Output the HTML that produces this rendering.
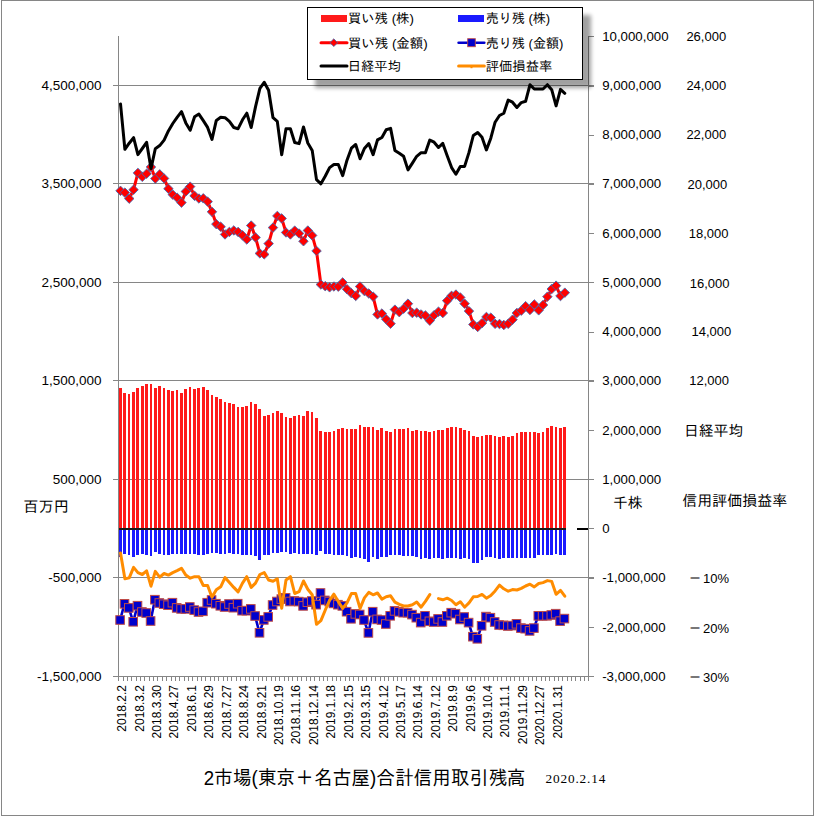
<!DOCTYPE html>
<html lang="ja"><head><meta charset="utf-8"><title>2市場(東京＋名古屋)合計信用取引残高</title>
<style>
html,body{margin:0;padding:0;background:#fff;}
body{width:814px;height:816px;overflow:hidden;position:relative;font-family:"Liberation Sans","IPAGothic","Noto Sans CJK JP",sans-serif;}
svg{position:absolute;left:0;top:0;display:block;}
.num{font-family:"Liberation Sans",sans-serif;font-size:13px;fill:#000;}
.xl{font-family:"Liberation Sans",sans-serif;font-size:12px;fill:#000;}
.jp{font-family:"Liberation Sans","IPAGothic","Noto Sans CJK JP",sans-serif;fill:#000;}
.ser{font-family:"Liberation Serif","Noto Serif CJK SC",serif;font-size:13.3px;fill:#000;}
</style></head><body>
<svg width="814" height="816" viewBox="0 0 814 816">
<defs><filter id="sh" x="-10%" y="-20%" width="125%" height="150%"><feGaussianBlur stdDeviation="2.2"/></filter></defs>
<rect x="0" y="0" width="814" height="816" fill="#fff"/>
<g shape-rendering="crispEdges" fill="#868686">
<rect x="1" y="0" width="813" height="1"/><rect x="1" y="815" width="813" height="1"/><rect x="1" y="0" width="1" height="816"/><rect x="813" y="0" width="1" height="816"/>
<rect x="113" y="85" width="481" height="1"/>
<rect x="113" y="183" width="481" height="1"/>
<rect x="113" y="282" width="481" height="1"/>
<rect x="113" y="380" width="481" height="1"/>
<rect x="113" y="479" width="481" height="1"/>
<rect x="113" y="577" width="481" height="1"/>
<rect x="588" y="36" width="6" height="1"/>
<rect x="588" y="86" width="6" height="1"/>
<rect x="588" y="135" width="6" height="1"/>
<rect x="588" y="184" width="6" height="1"/>
<rect x="588" y="233" width="6" height="1"/>
<rect x="588" y="282" width="6" height="1"/>
<rect x="588" y="332" width="6" height="1"/>
<rect x="588" y="381" width="6" height="1"/>
<rect x="588" y="430" width="6" height="1"/>
<rect x="588" y="479" width="6" height="1"/>
<rect x="588" y="528" width="6" height="1"/>
<rect x="588" y="578" width="6" height="1"/>
<rect x="588" y="627" width="6" height="1"/>
<rect x="588" y="676" width="6" height="1"/>
</g>
<g shape-rendering="crispEdges" fill="#FF1A1A">
<rect x="119" y="388" width="3" height="140"/>
<rect x="123" y="393" width="3" height="135"/>
<rect x="128" y="394" width="2" height="134"/>
<rect x="132" y="392" width="3" height="136"/>
<rect x="136" y="388" width="3" height="140"/>
<rect x="141" y="386" width="3" height="142"/>
<rect x="145" y="384" width="3" height="144"/>
<rect x="150" y="384" width="2" height="144"/>
<rect x="154" y="388" width="3" height="140"/>
<rect x="158" y="386" width="3" height="142"/>
<rect x="163" y="388" width="2" height="140"/>
<rect x="167" y="390" width="3" height="138"/>
<rect x="171" y="391" width="3" height="137"/>
<rect x="176" y="390" width="2" height="138"/>
<rect x="180" y="393" width="3" height="135"/>
<rect x="184" y="389" width="3" height="139"/>
<rect x="189" y="387" width="2" height="141"/>
<rect x="193" y="389" width="3" height="139"/>
<rect x="197" y="388" width="3" height="140"/>
<rect x="202" y="387" width="3" height="141"/>
<rect x="206" y="390" width="3" height="138"/>
<rect x="211" y="395" width="2" height="133"/>
<rect x="215" y="397" width="3" height="131"/>
<rect x="219" y="399" width="3" height="129"/>
<rect x="224" y="402" width="2" height="126"/>
<rect x="228" y="403" width="3" height="125"/>
<rect x="232" y="404" width="3" height="124"/>
<rect x="237" y="407" width="2" height="121"/>
<rect x="241" y="407" width="3" height="121"/>
<rect x="245" y="406" width="3" height="122"/>
<rect x="250" y="402" width="2" height="126"/>
<rect x="254" y="404" width="3" height="124"/>
<rect x="258" y="409" width="3" height="119"/>
<rect x="263" y="416" width="3" height="112"/>
<rect x="267" y="415" width="3" height="113"/>
<rect x="272" y="413" width="2" height="115"/>
<rect x="276" y="411" width="3" height="117"/>
<rect x="280" y="413" width="3" height="115"/>
<rect x="285" y="417" width="2" height="111"/>
<rect x="289" y="418" width="3" height="110"/>
<rect x="293" y="416" width="3" height="112"/>
<rect x="298" y="415" width="2" height="113"/>
<rect x="302" y="416" width="3" height="112"/>
<rect x="306" y="411" width="3" height="117"/>
<rect x="311" y="412" width="2" height="116"/>
<rect x="315" y="418" width="3" height="110"/>
<rect x="319" y="431" width="3" height="97"/>
<rect x="324" y="432" width="3" height="96"/>
<rect x="328" y="432" width="3" height="96"/>
<rect x="333" y="431" width="2" height="97"/>
<rect x="337" y="429" width="3" height="99"/>
<rect x="341" y="428" width="3" height="100"/>
<rect x="346" y="429" width="2" height="99"/>
<rect x="350" y="429" width="3" height="99"/>
<rect x="354" y="429" width="3" height="99"/>
<rect x="359" y="425" width="2" height="103"/>
<rect x="363" y="427" width="3" height="101"/>
<rect x="367" y="427" width="3" height="101"/>
<rect x="372" y="427" width="2" height="101"/>
<rect x="376" y="430" width="3" height="98"/>
<rect x="380" y="428" width="3" height="100"/>
<rect x="385" y="431" width="3" height="97"/>
<rect x="389" y="432" width="3" height="96"/>
<rect x="394" y="429" width="2" height="99"/>
<rect x="398" y="429" width="3" height="99"/>
<rect x="402" y="429" width="3" height="99"/>
<rect x="407" y="428" width="2" height="100"/>
<rect x="411" y="431" width="3" height="97"/>
<rect x="415" y="430" width="3" height="98"/>
<rect x="420" y="431" width="2" height="97"/>
<rect x="424" y="431" width="3" height="97"/>
<rect x="428" y="432" width="3" height="96"/>
<rect x="433" y="431" width="2" height="97"/>
<rect x="437" y="430" width="3" height="98"/>
<rect x="441" y="430" width="3" height="98"/>
<rect x="446" y="428" width="3" height="100"/>
<rect x="450" y="427" width="3" height="101"/>
<rect x="455" y="427" width="2" height="101"/>
<rect x="459" y="428" width="3" height="100"/>
<rect x="463" y="430" width="3" height="98"/>
<rect x="468" y="431" width="2" height="97"/>
<rect x="472" y="436" width="3" height="92"/>
<rect x="476" y="437" width="3" height="91"/>
<rect x="481" y="436" width="2" height="92"/>
<rect x="485" y="435" width="3" height="93"/>
<rect x="489" y="435" width="3" height="93"/>
<rect x="494" y="436" width="2" height="92"/>
<rect x="498" y="437" width="3" height="91"/>
<rect x="502" y="436" width="3" height="92"/>
<rect x="507" y="437" width="3" height="91"/>
<rect x="511" y="436" width="3" height="92"/>
<rect x="516" y="433" width="2" height="95"/>
<rect x="520" y="432" width="3" height="96"/>
<rect x="524" y="432" width="3" height="96"/>
<rect x="529" y="432" width="2" height="96"/>
<rect x="533" y="432" width="3" height="96"/>
<rect x="537" y="433" width="3" height="95"/>
<rect x="542" y="432" width="2" height="96"/>
<rect x="546" y="428" width="3" height="100"/>
<rect x="550" y="426" width="3" height="102"/>
<rect x="555" y="427" width="2" height="101"/>
<rect x="559" y="428" width="3" height="100"/>
<rect x="563" y="427" width="3" height="101"/>
</g>
<g shape-rendering="crispEdges" fill="#1A1AFF">
<rect x="119" y="530" width="3" height="27"/>
<rect x="123" y="530" width="3" height="24"/>
<rect x="128" y="530" width="2" height="25"/>
<rect x="132" y="530" width="3" height="27"/>
<rect x="136" y="530" width="3" height="25"/>
<rect x="141" y="530" width="3" height="24"/>
<rect x="145" y="530" width="3" height="25"/>
<rect x="150" y="530" width="2" height="26"/>
<rect x="154" y="530" width="3" height="22"/>
<rect x="158" y="530" width="3" height="24"/>
<rect x="163" y="530" width="2" height="25"/>
<rect x="167" y="530" width="3" height="25"/>
<rect x="171" y="530" width="3" height="24"/>
<rect x="176" y="530" width="2" height="24"/>
<rect x="180" y="530" width="3" height="24"/>
<rect x="184" y="530" width="3" height="24"/>
<rect x="189" y="530" width="2" height="24"/>
<rect x="193" y="530" width="3" height="24"/>
<rect x="197" y="530" width="3" height="25"/>
<rect x="202" y="530" width="3" height="25"/>
<rect x="206" y="530" width="3" height="24"/>
<rect x="211" y="530" width="2" height="23"/>
<rect x="215" y="530" width="3" height="23"/>
<rect x="219" y="530" width="3" height="24"/>
<rect x="224" y="530" width="2" height="24"/>
<rect x="228" y="530" width="3" height="23"/>
<rect x="232" y="530" width="3" height="24"/>
<rect x="237" y="530" width="2" height="24"/>
<rect x="241" y="530" width="3" height="25"/>
<rect x="245" y="530" width="3" height="25"/>
<rect x="250" y="530" width="2" height="25"/>
<rect x="254" y="530" width="3" height="26"/>
<rect x="258" y="530" width="3" height="30"/>
<rect x="263" y="530" width="3" height="25"/>
<rect x="267" y="530" width="3" height="25"/>
<rect x="272" y="530" width="2" height="23"/>
<rect x="276" y="530" width="3" height="23"/>
<rect x="280" y="530" width="3" height="22"/>
<rect x="285" y="530" width="2" height="22"/>
<rect x="289" y="530" width="3" height="24"/>
<rect x="293" y="530" width="3" height="23"/>
<rect x="298" y="530" width="2" height="24"/>
<rect x="302" y="530" width="3" height="24"/>
<rect x="306" y="530" width="3" height="24"/>
<rect x="311" y="530" width="2" height="24"/>
<rect x="315" y="530" width="3" height="25"/>
<rect x="319" y="530" width="3" height="21"/>
<rect x="324" y="530" width="3" height="24"/>
<rect x="328" y="530" width="3" height="24"/>
<rect x="333" y="530" width="2" height="25"/>
<rect x="337" y="530" width="3" height="25"/>
<rect x="341" y="530" width="3" height="25"/>
<rect x="346" y="530" width="2" height="26"/>
<rect x="350" y="530" width="3" height="28"/>
<rect x="354" y="530" width="3" height="27"/>
<rect x="359" y="530" width="2" height="28"/>
<rect x="363" y="530" width="3" height="29"/>
<rect x="367" y="530" width="3" height="32"/>
<rect x="372" y="530" width="2" height="27"/>
<rect x="376" y="530" width="3" height="29"/>
<rect x="380" y="530" width="3" height="27"/>
<rect x="385" y="530" width="3" height="27"/>
<rect x="389" y="530" width="3" height="25"/>
<rect x="394" y="530" width="2" height="25"/>
<rect x="398" y="530" width="3" height="25"/>
<rect x="402" y="530" width="3" height="26"/>
<rect x="407" y="530" width="2" height="26"/>
<rect x="411" y="530" width="3" height="26"/>
<rect x="415" y="530" width="3" height="27"/>
<rect x="420" y="530" width="2" height="29"/>
<rect x="424" y="530" width="3" height="28"/>
<rect x="428" y="530" width="3" height="29"/>
<rect x="433" y="530" width="2" height="28"/>
<rect x="437" y="530" width="3" height="28"/>
<rect x="441" y="530" width="3" height="29"/>
<rect x="446" y="530" width="3" height="28"/>
<rect x="450" y="530" width="3" height="28"/>
<rect x="455" y="530" width="2" height="28"/>
<rect x="459" y="530" width="3" height="29"/>
<rect x="463" y="530" width="3" height="28"/>
<rect x="468" y="530" width="2" height="29"/>
<rect x="472" y="530" width="3" height="33"/>
<rect x="476" y="530" width="3" height="33"/>
<rect x="481" y="530" width="2" height="30"/>
<rect x="485" y="530" width="3" height="27"/>
<rect x="489" y="530" width="3" height="27"/>
<rect x="494" y="530" width="2" height="28"/>
<rect x="498" y="530" width="3" height="29"/>
<rect x="502" y="530" width="3" height="28"/>
<rect x="507" y="530" width="3" height="28"/>
<rect x="511" y="530" width="3" height="28"/>
<rect x="516" y="530" width="2" height="28"/>
<rect x="520" y="530" width="3" height="28"/>
<rect x="524" y="530" width="3" height="28"/>
<rect x="529" y="530" width="2" height="28"/>
<rect x="533" y="530" width="3" height="28"/>
<rect x="537" y="530" width="3" height="25"/>
<rect x="542" y="530" width="2" height="25"/>
<rect x="546" y="530" width="3" height="25"/>
<rect x="550" y="530" width="3" height="25"/>
<rect x="555" y="530" width="2" height="24"/>
<rect x="559" y="530" width="3" height="25"/>
<rect x="563" y="530" width="3" height="25"/>
</g>
<g shape-rendering="crispEdges" fill="#868686">
<rect x="118" y="36" width="1" height="641"/>
<rect x="588" y="36" width="1" height="641"/>
<rect x="113" y="676" width="476" height="1"/>
<rect x="118" y="676" width="1" height="5"/>
<rect x="123" y="676" width="1" height="5"/>
<rect x="127" y="676" width="1" height="5"/>
<rect x="131" y="676" width="1" height="5"/>
<rect x="136" y="676" width="1" height="5"/>
<rect x="140" y="676" width="1" height="5"/>
<rect x="144" y="676" width="1" height="5"/>
<rect x="149" y="676" width="1" height="5"/>
<rect x="153" y="676" width="1" height="5"/>
<rect x="157" y="676" width="1" height="5"/>
<rect x="162" y="676" width="1" height="5"/>
<rect x="166" y="676" width="1" height="5"/>
<rect x="171" y="676" width="1" height="5"/>
<rect x="175" y="676" width="1" height="5"/>
<rect x="179" y="676" width="1" height="5"/>
<rect x="184" y="676" width="1" height="5"/>
<rect x="188" y="676" width="1" height="5"/>
<rect x="192" y="676" width="1" height="5"/>
<rect x="197" y="676" width="1" height="5"/>
<rect x="201" y="676" width="1" height="5"/>
<rect x="205" y="676" width="1" height="5"/>
<rect x="210" y="676" width="1" height="5"/>
<rect x="214" y="676" width="1" height="5"/>
<rect x="218" y="676" width="1" height="5"/>
<rect x="223" y="676" width="1" height="5"/>
<rect x="227" y="676" width="1" height="5"/>
<rect x="231" y="676" width="1" height="5"/>
<rect x="236" y="676" width="1" height="5"/>
<rect x="240" y="676" width="1" height="5"/>
<rect x="245" y="676" width="1" height="5"/>
<rect x="249" y="676" width="1" height="5"/>
<rect x="253" y="676" width="1" height="5"/>
<rect x="258" y="676" width="1" height="5"/>
<rect x="262" y="676" width="1" height="5"/>
<rect x="266" y="676" width="1" height="5"/>
<rect x="271" y="676" width="1" height="5"/>
<rect x="275" y="676" width="1" height="5"/>
<rect x="279" y="676" width="1" height="5"/>
<rect x="284" y="676" width="1" height="5"/>
<rect x="288" y="676" width="1" height="5"/>
<rect x="292" y="676" width="1" height="5"/>
<rect x="297" y="676" width="1" height="5"/>
<rect x="301" y="676" width="1" height="5"/>
<rect x="306" y="676" width="1" height="5"/>
<rect x="310" y="676" width="1" height="5"/>
<rect x="314" y="676" width="1" height="5"/>
<rect x="319" y="676" width="1" height="5"/>
<rect x="323" y="676" width="1" height="5"/>
<rect x="327" y="676" width="1" height="5"/>
<rect x="332" y="676" width="1" height="5"/>
<rect x="336" y="676" width="1" height="5"/>
<rect x="340" y="676" width="1" height="5"/>
<rect x="345" y="676" width="1" height="5"/>
<rect x="349" y="676" width="1" height="5"/>
<rect x="353" y="676" width="1" height="5"/>
<rect x="358" y="676" width="1" height="5"/>
<rect x="362" y="676" width="1" height="5"/>
<rect x="366" y="676" width="1" height="5"/>
<rect x="371" y="676" width="1" height="5"/>
<rect x="375" y="676" width="1" height="5"/>
<rect x="380" y="676" width="1" height="5"/>
<rect x="384" y="676" width="1" height="5"/>
<rect x="388" y="676" width="1" height="5"/>
<rect x="393" y="676" width="1" height="5"/>
<rect x="397" y="676" width="1" height="5"/>
<rect x="401" y="676" width="1" height="5"/>
<rect x="406" y="676" width="1" height="5"/>
<rect x="410" y="676" width="1" height="5"/>
<rect x="414" y="676" width="1" height="5"/>
<rect x="419" y="676" width="1" height="5"/>
<rect x="423" y="676" width="1" height="5"/>
<rect x="427" y="676" width="1" height="5"/>
<rect x="432" y="676" width="1" height="5"/>
<rect x="436" y="676" width="1" height="5"/>
<rect x="440" y="676" width="1" height="5"/>
<rect x="445" y="676" width="1" height="5"/>
<rect x="449" y="676" width="1" height="5"/>
<rect x="454" y="676" width="1" height="5"/>
<rect x="458" y="676" width="1" height="5"/>
<rect x="462" y="676" width="1" height="5"/>
<rect x="467" y="676" width="1" height="5"/>
<rect x="471" y="676" width="1" height="5"/>
<rect x="475" y="676" width="1" height="5"/>
<rect x="480" y="676" width="1" height="5"/>
<rect x="484" y="676" width="1" height="5"/>
<rect x="488" y="676" width="1" height="5"/>
<rect x="493" y="676" width="1" height="5"/>
<rect x="497" y="676" width="1" height="5"/>
<rect x="501" y="676" width="1" height="5"/>
<rect x="506" y="676" width="1" height="5"/>
<rect x="510" y="676" width="1" height="5"/>
<rect x="514" y="676" width="1" height="5"/>
<rect x="519" y="676" width="1" height="5"/>
<rect x="523" y="676" width="1" height="5"/>
<rect x="528" y="676" width="1" height="5"/>
<rect x="532" y="676" width="1" height="5"/>
<rect x="536" y="676" width="1" height="5"/>
<rect x="541" y="676" width="1" height="5"/>
<rect x="545" y="676" width="1" height="5"/>
<rect x="549" y="676" width="1" height="5"/>
<rect x="554" y="676" width="1" height="5"/>
<rect x="558" y="676" width="1" height="5"/>
<rect x="562" y="676" width="1" height="5"/>
<rect x="567" y="676" width="1" height="5"/>
<rect x="571" y="676" width="1" height="5"/>
<rect x="575" y="676" width="1" height="5"/>
<rect x="580" y="676" width="1" height="5"/>
<rect x="584" y="676" width="1" height="5"/>
<rect x="588" y="676" width="1" height="5"/>
</g>
<g shape-rendering="crispEdges" fill="#1a1a1a"><rect x="119" y="528" width="447" height="2"/><rect x="577" y="528" width="11" height="2" fill="#000"/></g>
<polyline points="120.5,190.8 124.9,192.6 129.2,198.6 133.6,189.7 137.9,172.9 142.3,176.8 146.6,173.7 151.0,167.0 155.3,178.6 159.7,174.3 164.1,178.4 168.4,188.7 172.8,194.6 177.1,197.7 181.5,202.6 185.8,191.5 190.2,186.6 194.6,195.8 198.9,198.5 203.3,198.3 207.6,201.6 212.0,211.8 216.3,224.1 220.7,226.7 225.0,234.4 229.4,231.9 233.8,230.4 238.1,231.9 242.5,235.3 246.8,239.5 251.2,225.5 255.5,237.4 259.9,253.4 264.2,254.4 268.6,243.6 273.0,227.6 277.3,215.9 281.7,218.4 286.0,232.5 290.4,234.4 294.7,230.6 299.1,233.5 303.5,241.2 307.8,230.5 312.2,235.4 316.5,250.9 320.9,284.5 325.2,286.1 329.6,287.3 333.9,286.5 338.3,286.7 342.7,282.4 347.0,289.2 351.4,293.1 355.7,295.9 360.1,286.5 364.4,291.0 368.8,293.5 373.1,296.6 377.5,314.4 381.9,313.5 386.2,319.3 390.6,323.7 394.9,309.6 399.3,312.1 403.6,308.7 408.0,303.7 412.4,313.0 416.7,312.7 421.1,314.4 425.4,315.4 429.8,320.6 434.1,315.2 438.5,311.7 442.8,313.0 447.2,300.7 451.6,295.8 455.9,294.5 460.3,297.4 464.6,303.7 469.0,311.1 473.3,324.4 477.7,326.9 482.0,323.1 486.4,316.9 490.8,317.6 495.1,323.8 499.5,324.0 503.8,325.0 508.2,323.8 512.5,319.7 516.9,313.0 521.3,310.7 525.6,306.2 530.0,309.9 534.3,304.4 538.7,310.3 543.0,305.0 547.4,296.7 551.7,289.0 556.1,285.7 560.5,296.0 564.8,292.7" fill="none" stroke="#FF0000" stroke-width="3" stroke-linejoin="round" stroke-linecap="round"/>
<g fill="#FF0000" stroke="#3F6CB5" stroke-width="0.85" stroke-linejoin="miter">
<path d="M120.5 186.1L125.2 190.8L120.5 195.6L115.8 190.8Z"/>
<path d="M124.9 187.9L129.6 192.6L124.9 197.4L120.1 192.6Z"/>
<path d="M129.2 193.9L134.0 198.6L129.2 203.4L124.5 198.6Z"/>
<path d="M133.6 185.0L138.3 189.7L133.6 194.5L128.8 189.7Z"/>
<path d="M137.9 168.2L142.7 172.9L137.9 177.7L133.2 172.9Z"/>
<path d="M142.3 172.1L147.0 176.8L142.3 181.6L137.5 176.8Z"/>
<path d="M146.6 169.0L151.4 173.7L146.6 178.5L141.9 173.7Z"/>
<path d="M151.0 162.2L155.7 167.0L151.0 171.8L146.2 167.0Z"/>
<path d="M155.3 173.9L160.1 178.6L155.3 183.4L150.6 178.6Z"/>
<path d="M159.7 169.6L164.5 174.3L159.7 179.1L155.0 174.3Z"/>
<path d="M164.1 173.7L168.8 178.4L164.1 183.2L159.3 178.4Z"/>
<path d="M168.4 184.0L173.2 188.7L168.4 193.5L163.7 188.7Z"/>
<path d="M172.8 189.9L177.5 194.6L172.8 199.4L168.0 194.6Z"/>
<path d="M177.1 193.0L181.9 197.7L177.1 202.5L172.4 197.7Z"/>
<path d="M181.5 197.9L186.2 202.6L181.5 207.4L176.7 202.6Z"/>
<path d="M185.8 186.8L190.6 191.5L185.8 196.2L181.1 191.5Z"/>
<path d="M190.2 181.9L194.9 186.6L190.2 191.4L185.4 186.6Z"/>
<path d="M194.6 191.1L199.3 195.8L194.6 200.6L189.8 195.8Z"/>
<path d="M198.9 193.8L203.7 198.5L198.9 203.2L194.2 198.5Z"/>
<path d="M203.3 193.6L208.0 198.3L203.3 203.1L198.5 198.3Z"/>
<path d="M207.6 196.9L212.4 201.6L207.6 206.4L202.9 201.6Z"/>
<path d="M212.0 207.1L216.7 211.8L212.0 216.6L207.2 211.8Z"/>
<path d="M216.3 219.4L221.1 224.1L216.3 228.9L211.6 224.1Z"/>
<path d="M220.7 222.0L225.4 226.7L220.7 231.5L215.9 226.7Z"/>
<path d="M225.0 229.7L229.8 234.4L225.0 239.2L220.3 234.4Z"/>
<path d="M229.4 227.2L234.1 231.9L229.4 236.7L224.6 231.9Z"/>
<path d="M233.8 225.7L238.5 230.4L233.8 235.2L229.0 230.4Z"/>
<path d="M238.1 227.2L242.9 231.9L238.1 236.7L233.4 231.9Z"/>
<path d="M242.5 230.6L247.2 235.3L242.5 240.1L237.7 235.3Z"/>
<path d="M246.8 234.8L251.6 239.5L246.8 244.2L242.1 239.5Z"/>
<path d="M251.2 220.8L255.9 225.5L251.2 230.2L246.4 225.5Z"/>
<path d="M255.5 232.7L260.3 237.4L255.5 242.2L250.8 237.4Z"/>
<path d="M259.9 248.7L264.6 253.4L259.9 258.1L255.1 253.4Z"/>
<path d="M264.2 249.7L269.0 254.4L264.2 259.1L259.5 254.4Z"/>
<path d="M268.6 238.9L273.4 243.6L268.6 248.4L263.9 243.6Z"/>
<path d="M273.0 222.9L277.7 227.6L273.0 232.4L268.2 227.6Z"/>
<path d="M277.3 211.2L282.1 215.9L277.3 220.7L272.6 215.9Z"/>
<path d="M281.7 213.7L286.4 218.4L281.7 223.2L276.9 218.4Z"/>
<path d="M286.0 227.8L290.8 232.5L286.0 237.2L281.3 232.5Z"/>
<path d="M290.4 229.7L295.1 234.4L290.4 239.2L285.6 234.4Z"/>
<path d="M294.7 225.9L299.5 230.6L294.7 235.4L290.0 230.6Z"/>
<path d="M299.1 228.8L303.8 233.5L299.1 238.2L294.3 233.5Z"/>
<path d="M303.5 236.5L308.2 241.2L303.5 246.0L298.7 241.2Z"/>
<path d="M307.8 225.8L312.6 230.5L307.8 235.2L303.1 230.5Z"/>
<path d="M312.2 230.7L316.9 235.4L312.2 240.2L307.4 235.4Z"/>
<path d="M316.5 246.2L321.3 250.9L316.5 255.7L311.8 250.9Z"/>
<path d="M320.9 279.8L325.6 284.5L320.9 289.2L316.1 284.5Z"/>
<path d="M325.2 281.4L330.0 286.1L325.2 290.9L320.5 286.1Z"/>
<path d="M329.6 282.6L334.3 287.3L329.6 292.1L324.8 287.3Z"/>
<path d="M333.9 281.8L338.7 286.5L333.9 291.2L329.2 286.5Z"/>
<path d="M338.3 281.9L343.0 286.7L338.3 291.4L333.5 286.7Z"/>
<path d="M342.7 277.7L347.4 282.4L342.7 287.2L337.9 282.4Z"/>
<path d="M347.0 284.4L351.8 289.2L347.0 293.9L342.3 289.2Z"/>
<path d="M351.4 288.4L356.1 293.1L351.4 297.9L346.6 293.1Z"/>
<path d="M355.7 291.2L360.5 295.9L355.7 300.7L351.0 295.9Z"/>
<path d="M360.1 281.8L364.8 286.5L360.1 291.2L355.3 286.5Z"/>
<path d="M364.4 286.2L369.2 291.0L364.4 295.8L359.7 291.0Z"/>
<path d="M368.8 288.8L373.5 293.5L368.8 298.2L364.0 293.5Z"/>
<path d="M373.1 291.9L377.9 296.6L373.1 301.4L368.4 296.6Z"/>
<path d="M377.5 309.7L382.3 314.4L377.5 319.2L372.8 314.4Z"/>
<path d="M381.9 308.8L386.6 313.5L381.9 318.2L377.1 313.5Z"/>
<path d="M386.2 314.6L391.0 319.3L386.2 324.1L381.5 319.3Z"/>
<path d="M390.6 318.9L395.3 323.7L390.6 328.4L385.8 323.7Z"/>
<path d="M394.9 304.9L399.7 309.6L394.9 314.4L390.2 309.6Z"/>
<path d="M399.3 307.4L404.0 312.1L399.3 316.9L394.5 312.1Z"/>
<path d="M403.6 303.9L408.4 308.7L403.6 313.4L398.9 308.7Z"/>
<path d="M408.0 298.9L412.7 303.7L408.0 308.4L403.2 303.7Z"/>
<path d="M412.4 308.2L417.1 313.0L412.4 317.8L407.6 313.0Z"/>
<path d="M416.7 307.9L421.5 312.7L416.7 317.4L412.0 312.7Z"/>
<path d="M421.1 309.7L425.8 314.4L421.1 319.2L416.3 314.4Z"/>
<path d="M425.4 310.7L430.2 315.4L425.4 320.2L420.7 315.4Z"/>
<path d="M429.8 315.9L434.5 320.6L429.8 325.4L425.0 320.6Z"/>
<path d="M434.1 310.4L438.9 315.2L434.1 319.9L429.4 315.2Z"/>
<path d="M438.5 306.9L443.2 311.7L438.5 316.4L433.7 311.7Z"/>
<path d="M442.8 308.2L447.6 313.0L442.8 317.8L438.1 313.0Z"/>
<path d="M447.2 295.9L451.9 300.7L447.2 305.4L442.4 300.7Z"/>
<path d="M451.6 291.1L456.3 295.8L451.6 300.6L446.8 295.8Z"/>
<path d="M455.9 289.8L460.7 294.5L455.9 299.2L451.2 294.5Z"/>
<path d="M460.3 292.7L465.0 297.4L460.3 302.2L455.5 297.4Z"/>
<path d="M464.6 298.9L469.4 303.7L464.6 308.4L459.9 303.7Z"/>
<path d="M469.0 306.4L473.7 311.1L469.0 315.9L464.2 311.1Z"/>
<path d="M473.3 319.7L478.1 324.4L473.3 329.2L468.6 324.4Z"/>
<path d="M477.7 322.2L482.4 326.9L477.7 331.7L472.9 326.9Z"/>
<path d="M482.0 318.4L486.8 323.1L482.0 327.9L477.3 323.1Z"/>
<path d="M486.4 312.2L491.2 316.9L486.4 321.7L481.7 316.9Z"/>
<path d="M490.8 312.9L495.5 317.6L490.8 322.4L486.0 317.6Z"/>
<path d="M495.1 319.1L499.9 323.8L495.1 328.6L490.4 323.8Z"/>
<path d="M499.5 319.2L504.2 324.0L499.5 328.8L494.7 324.0Z"/>
<path d="M503.8 320.2L508.6 325.0L503.8 329.8L499.1 325.0Z"/>
<path d="M508.2 319.1L512.9 323.8L508.2 328.6L503.4 323.8Z"/>
<path d="M512.5 314.9L517.3 319.7L512.5 324.4L507.8 319.7Z"/>
<path d="M516.9 308.2L521.6 313.0L516.9 317.8L512.1 313.0Z"/>
<path d="M521.3 305.9L526.0 310.7L521.3 315.4L516.5 310.7Z"/>
<path d="M525.6 301.4L530.4 306.2L525.6 310.9L520.9 306.2Z"/>
<path d="M530.0 305.2L534.7 309.9L530.0 314.7L525.2 309.9Z"/>
<path d="M534.3 299.7L539.1 304.4L534.3 309.2L529.6 304.4Z"/>
<path d="M538.7 305.6L543.4 310.3L538.7 315.1L533.9 310.3Z"/>
<path d="M543.0 300.2L547.8 305.0L543.0 309.8L538.3 305.0Z"/>
<path d="M547.4 291.9L552.1 296.7L547.4 301.4L542.6 296.7Z"/>
<path d="M551.7 284.2L556.5 289.0L551.7 293.8L547.0 289.0Z"/>
<path d="M556.1 280.9L560.8 285.7L556.1 290.4L551.3 285.7Z"/>
<path d="M560.5 291.2L565.2 296.0L560.5 300.8L555.7 296.0Z"/>
<path d="M564.8 287.9L569.6 292.7L564.8 297.4L560.1 292.7Z"/>
</g>
<polyline points="120.1,620.0 124.5,603.8 128.8,607.9 133.2,621.8 137.5,605.7 141.9,612.0 146.2,613.0 150.6,621.0 154.9,599.7 159.3,603.0 163.7,604.2 168.0,605.2 172.4,602.7 176.7,607.9 181.1,608.9 185.4,608.9 189.8,607.0 194.2,610.1 198.5,612.0 202.9,611.3 207.2,602.7 211.6,600.0 215.9,603.7 220.3,605.8 224.6,607.0 229.0,604.0 233.4,607.7 237.7,603.7 242.1,610.7 246.4,610.7 250.8,608.9 255.1,616.0 259.5,632.8 263.8,619.9 268.2,616.9 272.6,605.0 276.9,601.5 281.3,599.1 285.6,597.8 290.0,601.5 294.3,601.0 298.7,601.6 303.1,605.9 307.4,602.2 311.8,601.0 316.1,604.7 320.5,593.0 324.8,600.4 329.2,601.6 333.5,603.4 337.9,604.7 342.3,605.9 346.6,611.7 351.0,618.8 355.3,613.9 359.7,614.5 364.0,620.0 368.4,632.9 372.7,611.7 377.1,619.4 381.5,620.0 385.8,624.0 390.2,615.8 394.5,610.9 398.9,611.8 403.2,612.7 407.6,612.7 412.0,614.6 416.3,617.7 420.7,622.6 425.0,615.8 429.4,621.3 433.7,622.0 438.1,618.9 442.4,622.0 446.8,615.8 451.2,612.7 455.5,613.7 459.9,619.5 464.2,617.0 468.6,622.6 472.9,636.7 477.3,638.8 481.6,625.8 486.0,616.6 490.4,617.7 494.7,622.0 499.1,625.0 503.4,625.3 507.8,626.0 512.1,625.6 516.5,623.8 520.9,628.1 525.2,628.7 529.6,630.9 533.9,628.1 538.3,615.8 542.6,615.8 547.0,615.8 551.3,615.0 555.7,613.7 560.1,621.1 564.4,618.6" fill="none" stroke="#0000CC" stroke-width="2.6" stroke-linejoin="round" stroke-linecap="round"/>
<g fill="#0000CC" stroke="#BE4B48" stroke-width="1">
<rect x="115.8" y="615.7" width="8.6" height="8.6"/>
<rect x="120.2" y="599.5" width="8.6" height="8.6"/>
<rect x="124.5" y="603.6" width="8.6" height="8.6"/>
<rect x="128.9" y="617.5" width="8.6" height="8.6"/>
<rect x="133.2" y="601.4" width="8.6" height="8.6"/>
<rect x="137.6" y="607.7" width="8.6" height="8.6"/>
<rect x="141.9" y="608.7" width="8.6" height="8.6"/>
<rect x="146.3" y="616.7" width="8.6" height="8.6"/>
<rect x="150.6" y="595.4" width="8.6" height="8.6"/>
<rect x="155.0" y="598.7" width="8.6" height="8.6"/>
<rect x="159.4" y="599.9" width="8.6" height="8.6"/>
<rect x="163.7" y="600.9" width="8.6" height="8.6"/>
<rect x="168.1" y="598.4" width="8.6" height="8.6"/>
<rect x="172.4" y="603.6" width="8.6" height="8.6"/>
<rect x="176.8" y="604.6" width="8.6" height="8.6"/>
<rect x="181.1" y="604.6" width="8.6" height="8.6"/>
<rect x="185.5" y="602.7" width="8.6" height="8.6"/>
<rect x="189.9" y="605.8" width="8.6" height="8.6"/>
<rect x="194.2" y="607.7" width="8.6" height="8.6"/>
<rect x="198.6" y="607.0" width="8.6" height="8.6"/>
<rect x="202.9" y="598.4" width="8.6" height="8.6"/>
<rect x="207.3" y="595.7" width="8.6" height="8.6"/>
<rect x="211.6" y="599.4" width="8.6" height="8.6"/>
<rect x="216.0" y="601.5" width="8.6" height="8.6"/>
<rect x="220.3" y="602.7" width="8.6" height="8.6"/>
<rect x="224.7" y="599.7" width="8.6" height="8.6"/>
<rect x="229.1" y="603.4" width="8.6" height="8.6"/>
<rect x="233.4" y="599.4" width="8.6" height="8.6"/>
<rect x="237.8" y="606.4" width="8.6" height="8.6"/>
<rect x="242.1" y="606.4" width="8.6" height="8.6"/>
<rect x="246.5" y="604.6" width="8.6" height="8.6"/>
<rect x="250.8" y="611.7" width="8.6" height="8.6"/>
<rect x="255.2" y="628.5" width="8.6" height="8.6"/>
<rect x="259.5" y="615.6" width="8.6" height="8.6"/>
<rect x="263.9" y="612.6" width="8.6" height="8.6"/>
<rect x="268.3" y="600.7" width="8.6" height="8.6"/>
<rect x="272.6" y="597.2" width="8.6" height="8.6"/>
<rect x="277.0" y="594.8" width="8.6" height="8.6"/>
<rect x="281.3" y="593.5" width="8.6" height="8.6"/>
<rect x="285.7" y="597.2" width="8.6" height="8.6"/>
<rect x="290.0" y="596.7" width="8.6" height="8.6"/>
<rect x="294.4" y="597.3" width="8.6" height="8.6"/>
<rect x="298.8" y="601.6" width="8.6" height="8.6"/>
<rect x="303.1" y="597.9" width="8.6" height="8.6"/>
<rect x="307.5" y="596.7" width="8.6" height="8.6"/>
<rect x="311.8" y="600.4" width="8.6" height="8.6"/>
<rect x="316.2" y="588.7" width="8.6" height="8.6"/>
<rect x="320.5" y="596.1" width="8.6" height="8.6"/>
<rect x="324.9" y="597.3" width="8.6" height="8.6"/>
<rect x="329.2" y="599.1" width="8.6" height="8.6"/>
<rect x="333.6" y="600.4" width="8.6" height="8.6"/>
<rect x="338.0" y="601.6" width="8.6" height="8.6"/>
<rect x="342.3" y="607.4" width="8.6" height="8.6"/>
<rect x="346.7" y="614.5" width="8.6" height="8.6"/>
<rect x="351.0" y="609.6" width="8.6" height="8.6"/>
<rect x="355.4" y="610.2" width="8.6" height="8.6"/>
<rect x="359.7" y="615.7" width="8.6" height="8.6"/>
<rect x="364.1" y="628.6" width="8.6" height="8.6"/>
<rect x="368.4" y="607.4" width="8.6" height="8.6"/>
<rect x="372.8" y="615.1" width="8.6" height="8.6"/>
<rect x="377.2" y="615.7" width="8.6" height="8.6"/>
<rect x="381.5" y="619.7" width="8.6" height="8.6"/>
<rect x="385.9" y="611.5" width="8.6" height="8.6"/>
<rect x="390.2" y="606.6" width="8.6" height="8.6"/>
<rect x="394.6" y="607.5" width="8.6" height="8.6"/>
<rect x="398.9" y="608.4" width="8.6" height="8.6"/>
<rect x="403.3" y="608.4" width="8.6" height="8.6"/>
<rect x="407.7" y="610.3" width="8.6" height="8.6"/>
<rect x="412.0" y="613.4" width="8.6" height="8.6"/>
<rect x="416.4" y="618.3" width="8.6" height="8.6"/>
<rect x="420.7" y="611.5" width="8.6" height="8.6"/>
<rect x="425.1" y="617.0" width="8.6" height="8.6"/>
<rect x="429.4" y="617.7" width="8.6" height="8.6"/>
<rect x="433.8" y="614.6" width="8.6" height="8.6"/>
<rect x="438.1" y="617.7" width="8.6" height="8.6"/>
<rect x="442.5" y="611.5" width="8.6" height="8.6"/>
<rect x="446.9" y="608.4" width="8.6" height="8.6"/>
<rect x="451.2" y="609.4" width="8.6" height="8.6"/>
<rect x="455.6" y="615.2" width="8.6" height="8.6"/>
<rect x="459.9" y="612.7" width="8.6" height="8.6"/>
<rect x="464.3" y="618.3" width="8.6" height="8.6"/>
<rect x="468.6" y="632.4" width="8.6" height="8.6"/>
<rect x="473.0" y="634.5" width="8.6" height="8.6"/>
<rect x="477.3" y="621.5" width="8.6" height="8.6"/>
<rect x="481.7" y="612.3" width="8.6" height="8.6"/>
<rect x="486.1" y="613.4" width="8.6" height="8.6"/>
<rect x="490.4" y="617.7" width="8.6" height="8.6"/>
<rect x="494.8" y="620.7" width="8.6" height="8.6"/>
<rect x="499.1" y="621.0" width="8.6" height="8.6"/>
<rect x="503.5" y="621.7" width="8.6" height="8.6"/>
<rect x="507.8" y="621.3" width="8.6" height="8.6"/>
<rect x="512.2" y="619.5" width="8.6" height="8.6"/>
<rect x="516.6" y="623.8" width="8.6" height="8.6"/>
<rect x="520.9" y="624.4" width="8.6" height="8.6"/>
<rect x="525.3" y="626.6" width="8.6" height="8.6"/>
<rect x="529.6" y="623.8" width="8.6" height="8.6"/>
<rect x="534.0" y="611.5" width="8.6" height="8.6"/>
<rect x="538.3" y="611.5" width="8.6" height="8.6"/>
<rect x="542.7" y="611.5" width="8.6" height="8.6"/>
<rect x="547.0" y="610.7" width="8.6" height="8.6"/>
<rect x="551.4" y="609.4" width="8.6" height="8.6"/>
<rect x="555.8" y="616.8" width="8.6" height="8.6"/>
<rect x="560.1" y="614.3" width="8.6" height="8.6"/>
</g>
<polyline points="120.5,103.9 124.9,149.3 129.2,143.2 133.6,137.7 137.9,154.6 142.3,148.5 146.6,142.3 151.0,168.6 155.3,148.7 159.7,145.6 164.1,140.1 168.4,130.9 172.8,123.5 177.1,117.4 181.5,111.6 185.8,122.9 190.2,130.3 194.6,116.8 198.9,114.1 203.3,120.7 207.6,127.4 212.0,139.4 216.3,120.4 220.7,117.3 225.0,117.7 229.4,121.4 233.8,127.5 238.1,128.7 242.5,119.8 246.8,113.2 251.2,127.5 255.5,106.9 259.9,88.4 264.2,82.3 268.6,90.3 273.0,117.7 277.3,121.4 281.7,154.8 286.0,128.7 290.4,128.7 294.7,142.5 299.1,143.6 303.5,127.0 307.8,143.0 312.2,150.4 316.5,179.6 320.9,183.8 325.2,176.2 329.6,167.6 333.9,164.5 338.3,164.5 342.7,175.6 347.0,160.2 351.4,148.2 355.7,144.5 360.1,158.7 364.4,148.5 368.8,143.6 373.1,154.7 377.5,139.9 381.9,137.5 386.2,129.8 390.6,128.4 394.9,150.4 399.3,153.3 403.6,156.3 408.0,169.9 412.4,163.1 416.7,156.3 421.1,152.7 425.4,152.7 429.8,140.1 434.1,142.2 438.5,147.5 442.8,143.4 447.2,155.7 451.6,167.6 455.9,174.2 460.3,166.4 464.6,166.4 469.0,152.4 473.3,135.5 477.7,132.5 482.0,137.3 486.4,149.9 490.8,138.2 495.1,122.2 499.5,115.5 503.8,113.2 508.2,100.1 512.5,102.2 516.9,107.5 521.3,102.6 525.6,101.3 530.0,84.7 534.3,89.0 538.7,89.0 543.0,89.0 547.4,84.7 551.7,89.7 556.1,105.9 560.5,89.4 564.8,93.3" fill="none" stroke="#000" stroke-width="3" stroke-linejoin="round" stroke-linecap="round"/>
<polyline points="120.5,553.0 124.9,578.8 129.2,577.9 133.6,567.4 137.9,572.6 142.3,574.5 146.6,570.8 151.0,586.2 155.3,571.4 159.7,577.2 164.1,573.5 168.4,575.1 172.8,572.6 177.1,570.6 181.5,568.3 185.8,575.1 190.2,578.2 194.6,576.7 198.9,576.7 203.3,585.5 207.6,585.5 212.0,597.2 216.3,589.8 220.7,586.8 225.0,577.6 229.4,582.5 233.8,587.4 238.1,591.9 242.5,583.1 246.8,576.7 251.2,587.4 255.5,583.1 259.9,574.5 264.2,572.6 268.6,580.0 273.0,581.2 277.3,578.8 281.7,608.3 286.0,580.0 290.4,576.7 294.7,593.5 299.1,591.7 303.5,581.0 307.8,589.3 312.2,594.8 316.5,624.3 320.9,620.6 325.2,610.2 329.6,600.4 333.9,594.2 338.3,601.6 342.7,608.4 347.0,602.8 351.4,593.6 355.7,593.6 360.1,608.4 364.4,597.9 368.8,592.4 373.1,594.8 377.5,593.0 381.9,599.1 386.2,596.8 390.6,595.8 394.9,602.2 399.3,604.4 403.6,606.0 408.0,606.0 412.4,604.8 416.7,602.1 421.1,607.2 425.4,601.4 429.8,594.6" fill="none" stroke="#FF8C00" stroke-width="3" stroke-linejoin="round" stroke-linecap="round"/>
<polyline points="438.5,598.6 442.8,599.8 447.2,598.2 451.6,600.5 455.9,604.8 460.3,601.7 464.6,607.2 469.0,602.9 473.3,596.8 477.7,596.5 482.0,594.4 486.4,598.2 490.8,595.5 495.1,590.9 499.5,585.1 503.8,588.8 508.2,591.2 512.5,589.6 516.9,590.0 521.3,588.4 525.6,586.0 530.0,584.2 534.3,586.9 538.7,583.5 543.0,582.6 547.4,580.6 551.7,581.4 556.1,594.3 560.5,590.4 564.8,596.2" fill="none" stroke="#FF8C00" stroke-width="3" stroke-linejoin="round" stroke-linecap="round"/>
<text class="num" style="font-size:13.5px" x="101.5" y="90.3" text-anchor="end">4,500,000</text>
<text class="num" style="font-size:13.5px" x="101.5" y="188.1" text-anchor="end">3,500,000</text>
<text class="num" style="font-size:13.5px" x="101.5" y="287.1" text-anchor="end">2,500,000</text>
<text class="num" style="font-size:13.5px" x="101.5" y="385.3" text-anchor="end">1,500,000</text>
<text class="num" style="font-size:13.5px" x="101.5" y="484.3" text-anchor="end">500,000</text>
<text class="num" style="font-size:13.5px" x="101.5" y="582.3" text-anchor="end">-500,000</text>
<text class="num" style="font-size:13.5px" x="101.5" y="681.3" text-anchor="end">-1,500,000</text>
<text class="num" style="font-size:13.25px" x="602.2" y="41.4">10,000,000</text>
<text class="num" style="font-size:13.25px" x="602.2" y="90.2">9,000,000</text>
<text class="num" style="font-size:13.25px" x="602.2" y="139.1">8,000,000</text>
<text class="num" style="font-size:13.25px" x="602.2" y="188.0">7,000,000</text>
<text class="num" style="font-size:13.25px" x="602.2" y="238.0">6,000,000</text>
<text class="num" style="font-size:13.25px" x="602.2" y="287.2">5,000,000</text>
<text class="num" style="font-size:13.25px" x="602.2" y="336.2">4,000,000</text>
<text class="num" style="font-size:13.25px" x="602.2" y="385.3">3,000,000</text>
<text class="num" style="font-size:13.25px" x="602.2" y="435.1">2,000,000</text>
<text class="num" style="font-size:13.25px" x="602.2" y="483.9">1,000,000</text>
<text class="num" style="font-size:13.25px" x="602.2" y="533.4">0</text>
<text class="num" style="font-size:13.25px" x="602.2" y="582.3">-1,000,000</text>
<text class="num" style="font-size:13.25px" x="602.2" y="631.8">-2,000,000</text>
<text class="num" style="font-size:13.25px" x="602.2" y="681.3">-3,000,000</text>
<text class="num" x="686.4" y="41.4">26,000</text>
<text class="num" x="686.4" y="90.2">24,000</text>
<text class="num" x="686.4" y="139.1">22,000</text>
<text class="num" x="687.5" y="189.1">20,000</text>
<text class="num" x="688.7" y="238.3">18,000</text>
<text class="num" x="689.8" y="288.1">16,000</text>
<text class="num" x="691.5" y="336.1">14,000</text>
<text class="num" x="689.2" y="385.2">12,000</text>
<text class="jp" font-size="13px" x="688.4" y="583.1">－</text><text class="num" x="703" y="583.1">10%</text>
<text class="jp" font-size="13px" x="688.4" y="633.3">－</text><text class="num" x="703" y="633.3">20%</text>
<text class="jp" font-size="13px" x="688.4" y="682.3">－</text><text class="num" x="703" y="682.3">30%</text>
<text class="jp" font-size="14.8px" x="684" y="436">日経平均</text>
<text class="jp" font-size="14.8px" x="613" y="507.6">千株</text>
<text class="jp" font-size="15px" x="682.2" y="506">信用評価損益率</text>
<text class="jp" font-size="15.2px" x="23.3" y="512.4">百万円</text>
<text class="xl" transform="translate(126.1,685) rotate(-90)" text-anchor="end">2018.2.2</text>
<text class="xl" transform="translate(143.5,685) rotate(-90)" text-anchor="end">2018.3.2</text>
<text class="xl" transform="translate(160.9,685) rotate(-90)" text-anchor="end">2018.3.30</text>
<text class="xl" transform="translate(178.4,685) rotate(-90)" text-anchor="end">2018.4.27</text>
<text class="xl" transform="translate(195.8,685) rotate(-90)" text-anchor="end">2018.6.1</text>
<text class="xl" transform="translate(213.2,685) rotate(-90)" text-anchor="end">2018.6.29</text>
<text class="xl" transform="translate(230.6,685) rotate(-90)" text-anchor="end">2018.7.27</text>
<text class="xl" transform="translate(248.1,685) rotate(-90)" text-anchor="end">2018.8.24</text>
<text class="xl" transform="translate(265.5,685) rotate(-90)" text-anchor="end">2018.9.21</text>
<text class="xl" transform="translate(282.9,685) rotate(-90)" text-anchor="end">2018.10.19</text>
<text class="xl" transform="translate(300.3,685) rotate(-90)" text-anchor="end">2018.11.16</text>
<text class="xl" transform="translate(317.8,685) rotate(-90)" text-anchor="end">2018.12.14</text>
<text class="xl" transform="translate(335.2,685) rotate(-90)" text-anchor="end">2019.1.18</text>
<text class="xl" transform="translate(352.6,685) rotate(-90)" text-anchor="end">2019.2.15</text>
<text class="xl" transform="translate(370.0,685) rotate(-90)" text-anchor="end">2019.3.15</text>
<text class="xl" transform="translate(387.5,685) rotate(-90)" text-anchor="end">2019.4.12</text>
<text class="xl" transform="translate(404.9,685) rotate(-90)" text-anchor="end">2019.5.17</text>
<text class="xl" transform="translate(422.3,685) rotate(-90)" text-anchor="end">2019.6.14</text>
<text class="xl" transform="translate(439.7,685) rotate(-90)" text-anchor="end">2019.7.12</text>
<text class="xl" transform="translate(457.2,685) rotate(-90)" text-anchor="end">2019.8.9</text>
<text class="xl" transform="translate(474.6,685) rotate(-90)" text-anchor="end">2019.9.6</text>
<text class="xl" transform="translate(492.0,685) rotate(-90)" text-anchor="end">2019.10.4</text>
<text class="xl" transform="translate(509.4,685) rotate(-90)" text-anchor="end">2019.11.1</text>
<text class="xl" transform="translate(526.9,685) rotate(-90)" text-anchor="end">2019.11.29</text>
<text class="xl" transform="translate(544.3,685) rotate(-90)" text-anchor="end">2020.12.27</text>
<text class="xl" transform="translate(561.7,685) rotate(-90)" text-anchor="end">2020.1.31</text>
<text class="jp" font-size="20px" x="203.8" y="784.8" textLength="322" lengthAdjust="spacingAndGlyphs">2市場(東京＋名古屋)合計信用取引残高</text>
<text class="ser" x="545.6" y="783.4" textLength="59.7" lengthAdjust="spacing">2020.2.14</text>
<rect x="315" y="15" width="276" height="73" fill="#000" opacity="0.37" filter="url(#sh)"/>
<rect x="307.5" y="7.5" width="275" height="72" fill="#fff" stroke="#000" stroke-width="1"/>
<rect x="321" y="15" width="26" height="7" fill="#FF1A1A"/>
<rect x="458" y="15" width="26" height="7" fill="#1A1AFF"/>
<line x1="321" y1="42.7" x2="347" y2="42.7" stroke="#FF0000" stroke-width="3" stroke-linecap="round"/>
<path d="M333.8 38.8L337.7 42.7L333.8 46.6L329.9 42.7Z" fill="#FF0000" stroke="#3F6DB8" stroke-width="0.8"/>
<line x1="458.6" y1="42.7" x2="484.3" y2="42.7" stroke="#0000CC" stroke-width="2.6" stroke-linecap="round"/>
<rect x="467.7" y="38.7" width="7.6" height="8" fill="#0000CC" stroke="#BE4B48" stroke-width="0.9"/>
<line x1="321" y1="66" x2="347" y2="66" stroke="#000" stroke-width="3" stroke-linecap="round"/>
<line x1="458.6" y1="66" x2="484.3" y2="66" stroke="#FF8C00" stroke-width="3" stroke-linecap="round"/><rect x="470.5" y="66" width="2" height="2.2" fill="#FF8C00"/>
<text class="jp" font-size="13.33px" x="347.9" y="23.3" textLength="66" lengthAdjust="spacingAndGlyphs">買い残 (株)</text>
<text class="jp" font-size="13.33px" x="347.9" y="47.6" textLength="79.8" lengthAdjust="spacingAndGlyphs">買い残 (金額)</text>
<text class="jp" font-size="13.33px" x="347.7" y="70.9" textLength="53.3" lengthAdjust="spacingAndGlyphs">日経平均</text>
<text class="jp" font-size="13.33px" x="485.7" y="23.3" textLength="64.5" lengthAdjust="spacingAndGlyphs">売り残 (株)</text>
<text class="jp" font-size="13.33px" x="485.7" y="47.6" textLength="77.7" lengthAdjust="spacingAndGlyphs">売り残 (金額)</text>
<text class="jp" font-size="13.33px" x="485.7" y="70.9" textLength="66.7" lengthAdjust="spacingAndGlyphs">評価損益率</text>
</svg></body></html>
